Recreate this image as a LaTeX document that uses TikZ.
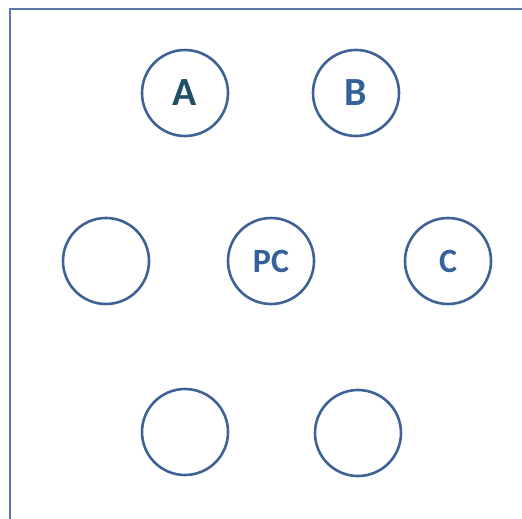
\documentclass[tikz,border=0pt]{standalone}
\usepackage{fontspec}
\setmainfont{Carlito}
\definecolor{ringblue}{HTML}{3E6295}
\definecolor{frameblue}{HTML}{5878A6}
\definecolor{tealtext}{HTML}{1F5068}
\definecolor{bluetext}{HTML}{35619A}
\begin{document}
\begin{tikzpicture}[
    x=1pt, y=-1pt,
    slot/.style={circle, draw=ringblue, line width=2.6pt, minimum size=86pt, inner sep=0pt, font=\bfseries\fontsize{34}{34}\selectfont, text=bluetext},
    big/.style={font=\bfseries\fontsize{40}{40}\selectfont}
]
\clip (0,0) rectangle (522,519);
\fill[white] (0,0) rectangle (522,519);

% Frame
\draw[frameblue, line width=2.4pt] (10,9) rectangle (540,540);

% Top row
\node[slot, big, text=tealtext] (a) at (185,93) {A};
\node[slot, big] (b) at (356,93) {B};

% Middle row
\node[slot] (left) at (106,261) {};
\node[slot] (pc) at (271,261) {PC};
\node[slot] (c) at (448,261) {C};

% Bottom row
\node[slot] (bl) at (185,432) {};
\node[slot] (br) at (358,433) {};

\end{tikzpicture}
\end{document}
